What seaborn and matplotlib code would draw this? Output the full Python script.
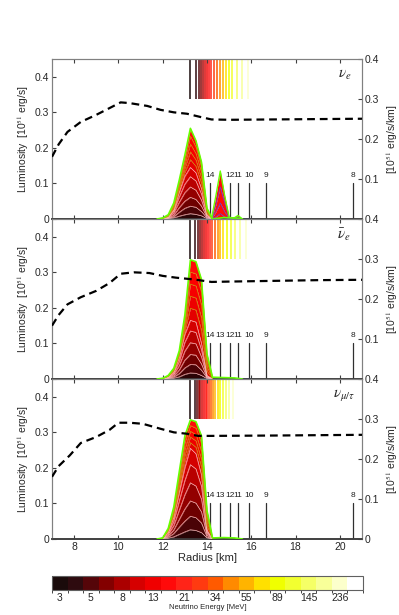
import numpy as np
import matplotlib
matplotlib.use("Agg")
import matplotlib.pyplot as plt
import seaborn as sns
from matplotlib.colors import ListedColormap, BoundaryNorm
from matplotlib.colorbar import ColorbarBase

sns.set_style("ticks")
plt.rcParams["font.family"] = ["Liberation Sans", "DejaVu Sans"]
plt.rcParams["mathtext.fontset"] = "stix"

# =========================================
# DATA
# =========================================

# energy bin colours (20 bins) and colorbar labels
bin_colors = ["#1a0b0b", "#2e0b0f", "#550509", "#830000", "#ab0000", "#d60000",
              "#f00000", "#ff0a0a", "#ff2418", "#ff3a10", "#ff5a00", "#ff8a00",
              "#ffb400", "#ffe000", "#f0ff00", "#f2ff30", "#f5ff66", "#f8ff99",
              "#fcffcc", "#ffffff"]
energy_labels = ["3", "5", "8", "13", "21", "34", "55", "89", "145", "236"]

flavours = [r"$\nu_e$", r"$\bar{\nu}_e$", r"$\nu_{\mu/\tau}$"]

radius = [11.75, 12.0, 12.25, 12.5, 12.75, 13.0, 13.25, 13.5, 13.75, 14.0, 14.25]

# cumulative luminosity (stacked energy bins), bottom -> top
nue_stack = [
    [0, 0, .001, .003, .008, .012, .015, .013, .009, .001, 0],
    [0, 0, .002, .006, .019, .030, .036, .033, .021, .003, 0],
    [0, 0, .003, .010, .032, .050, .061, .055, .036, .005, 0],
    [0, .001, .004, .016, .047, .074, .090, .081, .053, .007, 0],
    [0, .001, .005, .021, .062, .098, .119, .107, .070, .010, 0],
    [0, .001, .006, .025, .075, .120, .145, .130, .085, .012, 0],
    [0, .001, .007, .029, .082, .132, .167, .148, .100, .016, 0],
    [0, .002, .008, .033, .089, .144, .189, .166, .115, .019, 0],
    [0, .002, .010, .037, .096, .156, .211, .184, .130, .023, 0],
    [0, .003, .011, .041, .103, .168, .233, .202, .145, .026, 0],
    [0, .003, .012, .045, .110, .180, .255, .220, .160, .030, 0],
]
nuebar_stack = [
    [0, 0, .001, .002, .006, .013, .017, .016, .010, .001, 0],
    [0, 0, .002, .005, .015, .031, .041, .040, .025, .003, 0],
    [0, 0, .003, .008, .025, .053, .069, .067, .042, .004, 0],
    [0, .001, .004, .012, .037, .078, .102, .099, .062, .006, 0],
    [0, .001, .005, .016, .049, .103, .135, .131, .082, .008, 0],
    [0, .001, .006, .020, .060, .125, .165, .160, .100, .010, 0],
    [0, .001, .007, .022, .064, .136, .199, .194, .136, .022, .001],
    [0, .001, .008, .024, .068, .147, .233, .228, .172, .034, .002],
    [0, .002, .008, .026, .072, .158, .267, .262, .208, .046, .003],
    [0, .002, .009, .028, .076, .169, .301, .296, .244, .058, .004],
    [0, .002, .010, .030, .080, .180, .335, .330, .280, .070, .005],
]
numu_stack = [
    [0, 0, .002, .006, .013, .020, .026, .024, .018, .003, 0],
    [0, .001, .005, .015, .033, .050, .064, .060, .045, .006, 0],
    [0, .001, .008, .025, .055, .084, .107, .101, .076, .011, 0],
    [0, .001, .012, .037, .081, .124, .158, .149, .112, .016, 0],
    [0, .002, .016, .049, .107, .164, .209, .197, .148, .021, 0],
    [0, .002, .020, .060, .130, .200, .255, .240, .180, .025, 0],
    [0, .002, .022, .066, .142, .218, .271, .258, .202, .036, .001],
    [0, .002, .024, .072, .154, .236, .287, .276, .224, .047, .001],
    [0, .003, .026, .078, .166, .254, .303, .294, .246, .058, .002],
    [0, .003, .028, .084, .178, .272, .319, .312, .268, .069, .002],
    [0, .003, .030, .090, .190, .290, .335, .330, .290, .080, .003],
]
layer_colors = ["#2a0406", "#4a0306", "#6e0000", "#930000", "#b80000", "#d40000",
                "#e40000", "#ee0000", "#f60000", "#fc0000", "#ff0a0a"]

# second (nu_e) bump
bump_r = [14.2, 14.4, 14.6, 14.8, 15.0, 15.2, 15.4, 15.6]
bump_stack = [
    [0, .006, .015, .006, 0, 0, .001, 0],
    [0, .020, .045, .020, .002, .001, .003, 0],
    [0, .040, .090, .045, .005, .002, .006, 0],
    [0, .065, .135, .065, .005, .002, .010, 0],
]

# green tail along the axis after the peak
tail_r = [14.25, 14.75, 15.25, 15.6]
tail_l = [0.004, 0.004, 0.003, 0.0]

# dashed curves
dash_r = [
    [7, 7.3, 7.7, 8.3, 9.0, 9.6, 10.1, 10.5, 11.3, 11.9, 12.5, 13.1, 13.7, 14.2, 15, 17, 19, 21],
    [7, 7.3, 7.7, 8.3, 9.0, 9.6, 10.1, 10.7, 11.4, 12.0, 12.6, 13.4, 14.2, 15, 17, 19, 21],
    [7, 7.3, 7.8, 8.3, 9.0, 9.6, 10.0, 10.5, 11.1, 11.9, 12.5, 13.1, 13.6, 14.2, 17, 21],
]
dash_l = [
    [0.175, 0.21, 0.245, 0.273, 0.293, 0.312, 0.328, 0.326, 0.318, 0.307, 0.30, 0.296, 0.287, 0.28, 0.279, 0.28, 0.281, 0.282],
    [0.15, 0.18, 0.21, 0.23, 0.248, 0.27, 0.296, 0.30, 0.298, 0.29, 0.285, 0.28, 0.273, 0.274, 0.276, 0.278, 0.279],
    [0.175, 0.205, 0.235, 0.27, 0.287, 0.307, 0.327, 0.327, 0.324, 0.31, 0.30, 0.296, 0.29, 0.29, 0.291, 0.293],
]

# neutrinosphere radius per energy bin (top coloured lines)
sphere_r = [
    [13.24, 13.5, 13.62, 13.72, 13.81, 13.9, 13.99, 14.08, 14.2, 14.32, 14.45, 14.58, 14.7, 14.84, 14.98, 15.15, 15.35, 15.58, 15.85, 16.15],
    [13.24, 13.48, 13.58, 13.67, 13.76, 13.85, 13.94, 14.03, 14.13, 14.24, 14.36, 14.48, 14.6, 14.74, 14.9, 15.08, 15.28, 15.5, 15.74, 16.0],
    [13.24, 13.45, 13.54, 13.62, 13.7, 13.78, 13.86, 13.94, 14.02, 14.1, 14.19, 14.28, 14.38, 14.48, 14.6, 14.72, 14.86, 15.0, 15.16, 15.33],
]

# numbered marker lines
mark_r = [14.14, 14.59, 15.04, 15.4, 15.9, 16.67, 20.6]
mark_lab = ["14", "13", "12", "11", "10", "9", "8"]

stacks = [nue_stack, nuebar_stack, numu_stack]

# =========================================
# FIGURE
# =========================================

fig = plt.figure(figsize=(3.99, 6.15), dpi=100)
W, H = 399, 615
left, width = 52 / W, 310 / W
tops = [59, 219, 379]
ph = 160

for i in range(3):
    ax = fig.add_axes([left, 1 - (tops[i] + ph) / H, width, ph / H])
    ax2 = ax.twinx()
    ax.set_zorder(ax2.get_zorder() + 1)
    ax.patch.set_visible(False)

    # numbered lines (the 13 label sits under the nu_e bump)
    for r, lab in zip(mark_r, mark_lab):
        ax.plot([r, r], [0, 0.1], color="#303030", lw=0.9, zorder=1)
        if not (i == 0 and lab == "13"):
            ax.text(r, 0.112, lab, fontsize=6, ha="center", va="bottom",
                    zorder=1, color="#202020")

    # stacked energy bins
    st = stacks[i]
    prev = np.zeros(len(radius))
    for k, top in enumerate(st):
        ax.fill_between(radius, prev, top, color=layer_colors[k], lw=0, zorder=2)
        prev = np.array(top)
    for k, top in enumerate(st[:-1]):
        c = "#ffc0c0" if k < 6 else "#c89a00"
        ax.plot(radius, top, color=c, lw=0.5, alpha=0.9, zorder=3)
    ax.plot(list(radius) + tail_r[1:], st[-1] + tail_l[1:], color="#66ff00",
            lw=1.2, zorder=4)

    if i == 0:
        prev = np.zeros(len(bump_r))
        for k, top in enumerate(bump_stack):
            ax.fill_between(bump_r, prev, top, color="#ff0a0a", lw=0, zorder=2)
            prev = np.array(top)
        for top in bump_stack[:-1]:
            ax.plot(bump_r, top, color="#7040c0", lw=0.6, zorder=3)
        ax.plot(bump_r, bump_stack[-1], color="#66ff00", lw=1.0, zorder=4)
    if i < 2:
        ax.plot([13.5, 16.0], [0.001, 0.001], color="#3040ff", lw=0.8, zorder=4)

    # dashed curve
    sns.lineplot(x=dash_r[i], y=dash_l[i], ax=ax, color="black", lw=1.6,
                 linestyle=(0, (3.5, 2.2)), zorder=5)

    # neutrinosphere lines on right axis
    ax2.vlines(sphere_r[i], 0.3, 0.4, colors=bin_colors, lw=1.1)

    ax.text(20.2, 0.405, flavours[i], fontsize=11, ha="center", va="center",
            fontstyle="italic")

    ax.set_xlim(7, 21)
    ax.set_ylim(0, 0.45)
    ax2.set_ylim(0, 0.4)
    ax.set_xticks(range(8, 21, 2))
    ax.set_yticks([0, 0.1, 0.2, 0.3, 0.4])
    ax.set_yticklabels(["0", "0.1", "0.2", "0.3", "0.4"])
    if i < 2:
        ax2.set_yticks([0.1, 0.2, 0.3, 0.4])
        ax2.set_yticklabels(["0.1", "0.2", "0.3", "0.4"])
        ax.set_xticklabels([])
    else:
        ax2.set_yticks([0, 0.1, 0.2, 0.3, 0.4])
        ax2.set_yticklabels(["0", "0.1", "0.2", "0.3", "0.4"])
        ax.set_xlabel("Radius [km]", fontsize=8, labelpad=1)
    ax.tick_params(axis="x", direction="in", top=True, length=3, labelsize=7.5,
                   color="#404040", pad=2)
    ax.tick_params(axis="y", direction="in", length=3, labelsize=7.5,
                   color="#404040", pad=2)
    ax2.tick_params(axis="y", direction="in", length=3, labelsize=7.5,
                    color="#404040", pad=2)
    ax.set_ylabel(r"Luminosity  [10$^{51}$ erg/s]", fontsize=7.5, labelpad=3)
    ax2.set_ylabel(r"[10$^{51}$ erg/s/km]", fontsize=7.5, rotation=90, labelpad=4)
    for a in (ax, ax2):
        for s in a.spines.values():
            s.set_color("#808080")
            s.set_linewidth(0.8)
        a.spines["bottom"].set_color("#404040")
        a.spines["bottom"].set_linewidth(1.2)

# =========================================
# COLORBAR
# =========================================

cax = fig.add_axes([52 / W, 1 - 590 / H, 311 / W, 14 / H])
cmap = ListedColormap(bin_colors)
norm = BoundaryNorm(np.arange(21), 20)
cb = ColorbarBase(cax, cmap=cmap, norm=norm, orientation="horizontal",
                  ticks=np.arange(0.5, 20, 2))
cb.set_ticklabels(energy_labels)
cb.ax.tick_params(labelsize=7.5, length=0, pad=2)
cb.outline.set_edgecolor("#606060")
cb.outline.set_linewidth(0.8)
cb.set_label("Neutrino Energy [MeV]", fontsize=5.5, labelpad=1)

fig.savefig("out.png", dpi=100)
